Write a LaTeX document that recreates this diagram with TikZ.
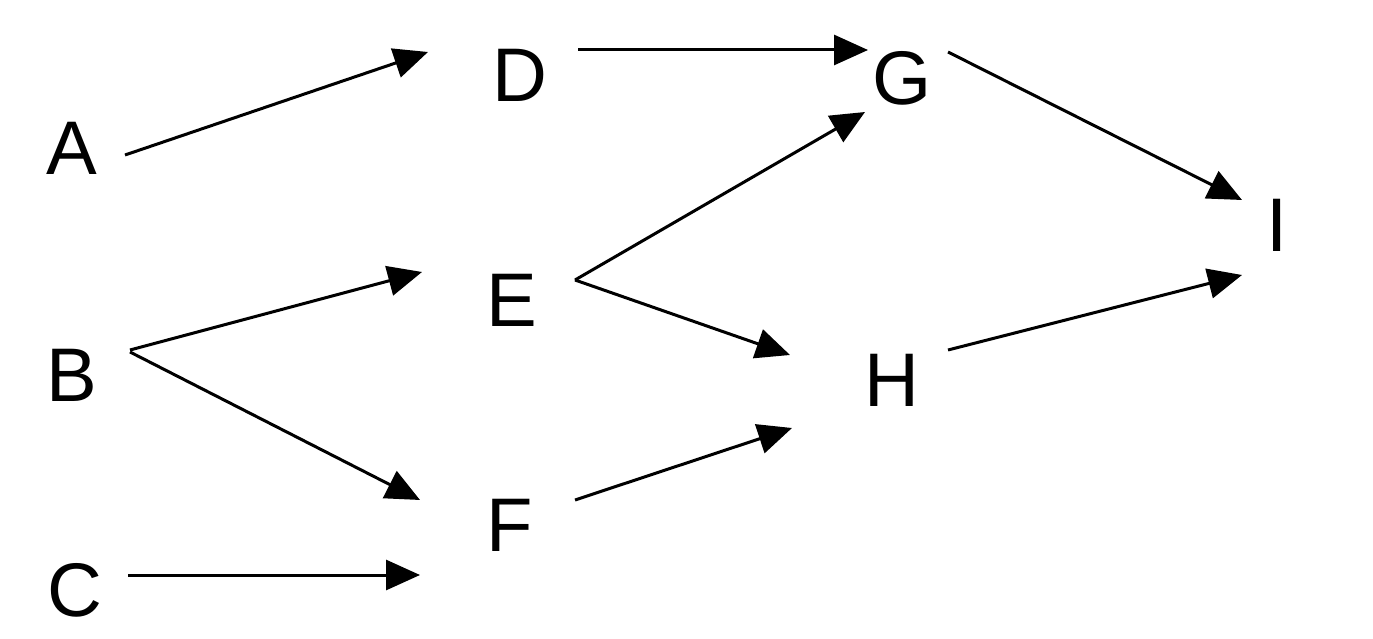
\documentclass[tikz,border=0pt]{standalone}
\usepackage{fontspec}
\setmainfont{Liberation Sans}
\usetikzlibrary{arrows.meta}
\begin{document}
\begin{tikzpicture}[x=1pt,y=-1pt,
  letter/.style={inner sep=0pt,font=\fontsize{76}{80}\selectfont},
  conn/.style={line width=3pt,-{Triangle[length=34pt,width=30pt]}}]
\useasboundingbox (0,0) rectangle (1373,639);
\node[letter] (A) at (72,148) {A};
\node[letter] (B) at (72,375) {B};
\node[letter] (C) at (75,590) {C};
\node[letter] (D) at (520,75) {D};
\node[letter] (E) at (512,300) {E};
\node[letter] (F) at (510,525) {F};
\node[letter] (G) at (902,78) {G};
\node[letter] (H) at (892,380) {H};
\node[letter] (I) at (1277,225) {I};
\coordinate (Cend) at (420,575);
\draw[conn] ([shift={(53,7)}]A.center) -- ([shift={(-92,-23)}]D.center);
\draw[conn] ([shift={(58,-25)}]D.center) -- ([shift={(-34,-28)}]G.center);
\draw[conn] ([shift={(58,-25)}]B.center) -- ([shift={(-90,-28)}]E.center);
\draw[conn] ([shift={(58,-23)}]B.center) -- ([shift={(-90,-25)}]F.center);
\draw[conn] ([shift={(53,-15)}]C.center) -- (Cend);
\draw[conn] ([shift={(63,-20)}]E.center) -- ([shift={(-37,34)}]G.center);
\draw[conn] ([shift={(63,-20)}]E.center) -- ([shift={(-102,-25)}]H.center);
\draw[conn] ([shift={(65,-25)}]F.center) -- ([shift={(-100,48)}]H.center);
\draw[conn] ([shift={(46,-26)}]G.center) -- ([shift={(-35,-25)}]I.center);
\draw[conn] ([shift={(56,-30)}]H.center) -- ([shift={(-35,50)}]I.center);
\end{tikzpicture}
\end{document}
